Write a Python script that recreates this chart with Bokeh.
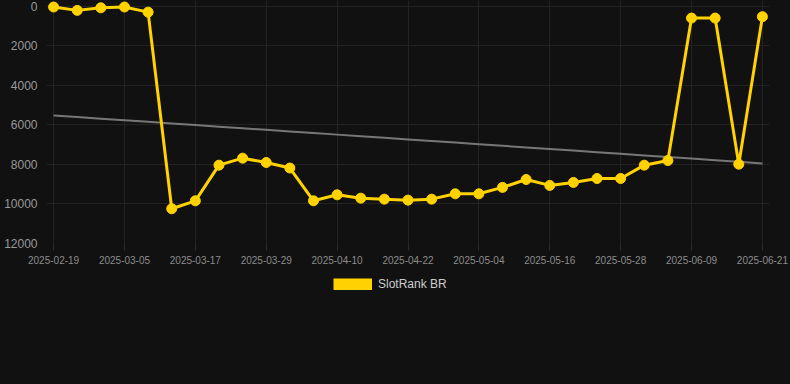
import numpy as np
from bokeh.plotting import figure
from bokeh.layouts import column
from bokeh.models import Range1d, FixedTicker, Legend, LegendItem
from bokeh.embed import file_html
from bokeh.resources import INLINE

dates = ["2025-02-19", "2025-02-24", "2025-02-28", "2025-03-05", "2025-03-09",
         "2025-03-13", "2025-03-17", "2025-03-21", "2025-03-25", "2025-03-29",
         "2025-04-02", "2025-04-06", "2025-04-10", "2025-04-14", "2025-04-18",
         "2025-04-22", "2025-04-26", "2025-04-30", "2025-05-04", "2025-05-08",
         "2025-05-12", "2025-05-16", "2025-05-20", "2025-05-24", "2025-05-28",
         "2025-06-01", "2025-06-05", "2025-06-09", "2025-06-13", "2025-06-17",
         "2025-06-21"]
ranks = [30, 200, 70, 30, 290, 10240, 9840, 8035, 7680, 7900, 8180, 9840, 9535,
         9705, 9755, 9805, 9755, 9485, 9485, 9160, 8760, 9060, 8910, 8710, 8710,
         8035, 7800, 590, 590, 7985, 520]
y_ticks = [0, 2000, 4000, 6000, 8000, 10000, 12000]
series_name = "SlotRank BR"
label_step = 3

FONT = "Liberation Sans"
YELLOW = "#FFD200"
BG = "#111111"

xs = list(range(len(dates)))
coef = np.polyfit(xs, ranks, 1)
trend = np.polyval(coef, xs)

p = figure(width=790, height=270, output_backend="svg", toolbar_location=None,
           x_range=Range1d(-0.3, len(dates) - 1 + 0.3), y_range=Range1d(12000, -300),
           min_border_left=46, min_border_right=21, min_border_top=0,
           min_border_bottom=27,
           background_fill_color=BG, border_fill_color=BG, outline_line_color=None,
           styles={"background-color": BG})

p.line(xs, trend, line_color="#8a8a8a", line_width=2, line_alpha=0.85)
p.line(xs, ranks, line_color=YELLOW, line_width=3)
p.scatter(xs, ranks, size=10, fill_color=YELLOW, line_color=YELLOW)

x_tick_idx = xs[::label_step]
p.xaxis.ticker = FixedTicker(ticks=x_tick_idx)
p.xaxis.major_label_overrides = {i: dates[i] for i in x_tick_idx}
p.yaxis.ticker = FixedTicker(ticks=y_ticks)

for ax in (p.xaxis, p.yaxis):
    ax.axis_line_color = None
    ax.minor_tick_line_color = None
    ax.major_label_text_font = FONT

p.xaxis.major_tick_line_color = "#2a2a2a"
p.xaxis.major_tick_out = 7
p.xaxis.major_tick_in = 0
p.xaxis.major_label_standoff = 5
p.xaxis.major_label_text_font_size = "10px"
p.xaxis.major_label_text_color = "#8c8c8c"

p.yaxis.major_tick_line_color = None
p.yaxis.major_label_standoff = 3
p.yaxis.major_label_text_font_size = "12px"
p.yaxis.major_label_text_color = "#999999"

p.xgrid.grid_line_color = "#232323"
p.ygrid.grid_line_color = "#232323"

# legend strip below the chart; the series is drawn off-range here so only the legend swatch shows
lp = figure(width=790, height=114, output_backend="svg", toolbar_location=None,
            x_range=Range1d(0, 1), y_range=Range1d(-1, 0),
            x_axis_type=None, y_axis_type=None,
            min_border_left=0, min_border_right=0, min_border_top=0, min_border_bottom=0,
            background_fill_color=BG, border_fill_color=BG, outline_line_color=None,
            styles={"background-color": BG})
swatch = lp.line(xs, ranks, line_color=YELLOW, line_width=12, line_cap="butt")
legend = Legend(items=[LegendItem(label=series_name, renderers=[swatch])],
                location=(287, 93), orientation="horizontal",
                background_fill_alpha=0, border_line_color=None,
                label_text_color="#cccccc", label_text_font_size="12px",
                label_text_font=FONT, glyph_width=39, glyph_height=12,
                label_standoff=6, label_height=12, padding=0, margin=0, spacing=0)
lp.add_layout(legend, "center")

page = column(p, lp, spacing=0, styles={"background-color": BG})

open("out.html", "w").write(file_html(page, INLINE))
